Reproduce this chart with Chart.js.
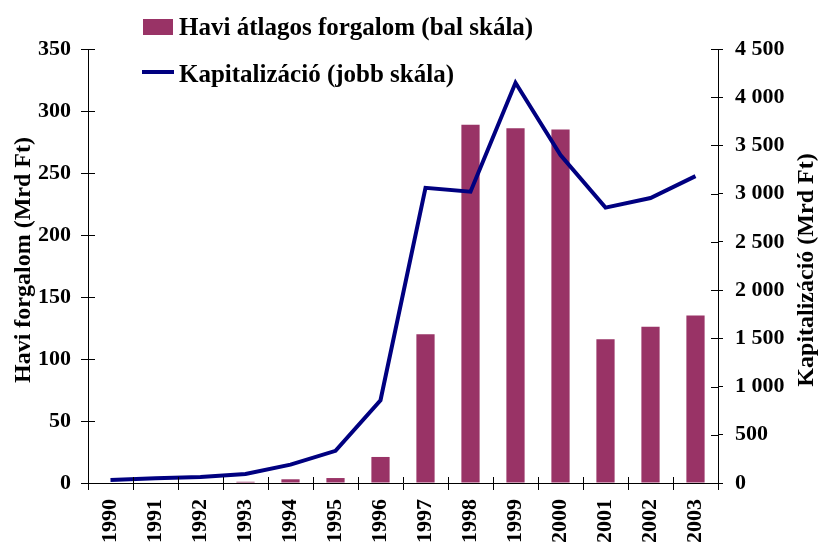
<!DOCTYPE html>
<html>
<head>
<meta charset="utf-8">
<script src="https://cdn.jsdelivr.net/npm/chart.js@4"></script>
<style>
  html, body { margin: 0; padding: 0; background: #fff; }
  #wrap { width: 819px; height: 543px; }
</style>
</head>
<body>
<div id="wrap"><canvas id="chart" width="819" height="543"></canvas></div>
<script>
const years = ['1990', '1991', '1992', '1993', '1994', '1995', '1996', '1997', '1998', '1999', '2000', '2001', '2002', '2003'];
const forgalom = [0, 0, 0, 1, 3, 4, 21, 120, 289, 286, 285, 116, 126, 135];
const kapitalizacio = [30, 48, 62, 93, 190, 334, 858, 3060, 3020, 4150, 3400, 2855, 2955, 3182];
const leftTicks = [0, 50, 100, 150, 200, 250, 300, 350];
const rightTicks = [0, 500, 1000, 1500, 2000, 2500, 3000, 3500, 4000, 4500];

const FONT = '"Liberation Serif", "Times New Roman", serif';
const BAR_COLOR = '#993366';
const LINE_COLOR = '#000080';

// legend inside the plot, axis titles, and the inner half of the tick marks
const extrasPlugin = {
  id: 'extras',
  afterDraw(chart) {
    const ctx = chart.ctx;
    const area = chart.chartArea;
    const { x, y, y1 } = chart.scales;
    ctx.save();

    // inner tick marks (ticks cross the axis lines)
    ctx.strokeStyle = '#000';
    ctx.lineWidth = 1;
    ctx.beginPath();
    y.ticks.forEach(t => {
      const py = Math.round(y.getPixelForValue(t.value)) + 0.5;
      ctx.moveTo(area.left, py);
      ctx.lineTo(area.left + 7, py);
    });
    y1.ticks.forEach(t => {
      const py = Math.round(y1.getPixelForValue(t.value)) + 0.5;
      ctx.moveTo(area.right - 7, py);
      ctx.lineTo(area.right, py);
    });
    for (let i = 0; i <= years.length; i++) {
      const px = Math.round(x.getPixelForValue(i - 0.5)) + 0.5;
      ctx.moveTo(px, area.bottom - 6);
      ctx.lineTo(px, area.bottom);
    }
    ctx.stroke();

    // legend
    ctx.fillStyle = BAR_COLOR;
    ctx.fillRect(143, 19, 30, 16);
    ctx.strokeStyle = LINE_COLOR;
    ctx.lineWidth = 4;
    ctx.beginPath();
    ctx.moveTo(142, 72);
    ctx.lineTo(174, 72);
    ctx.stroke();
    ctx.fillStyle = '#000';
    ctx.font = 'bold 25px ' + FONT;
    ctx.textBaseline = 'alphabetic';
    ctx.textAlign = 'left';
    ctx.fillText('Havi átlagos forgalom (bal skála)', 179, 35);
    ctx.fillText('Kapitalizáció (jobb skála)', 179, 82);

    // axis titles, both reading bottom to top
    ctx.font = 'bold 24px ' + FONT;
    ctx.textAlign = 'center';
    ctx.save();
    ctx.translate(30, 260);
    ctx.rotate(-Math.PI / 2);
    ctx.fillText('Havi forgalom (Mrd Ft)', 0, 0);
    ctx.restore();
    ctx.save();
    ctx.translate(813, 270);
    ctx.rotate(-Math.PI / 2);
    ctx.fillText('Kapitalizáció (Mrd Ft)', 0, 0);
    ctx.restore();

    ctx.restore();
  }
};

new Chart(document.getElementById('chart'), {
  data: {
    labels: years,
    datasets: [
      {
        type: 'line',
        label: 'Kapitalizáció (jobb skála)',
        data: kapitalizacio,
        yAxisID: 'y1',
        borderColor: LINE_COLOR,
        borderWidth: 4,
        pointRadius: 0,
        tension: 0,
        order: 0
      },
      {
        type: 'bar',
        label: 'Havi átlagos forgalom (bal skála)',
        data: forgalom,
        yAxisID: 'y',
        backgroundColor: BAR_COLOR,
        categoryPercentage: 1,
        barPercentage: 0.405,
        order: 1
      }
    ]
  },
  plugins: [extrasPlugin],
  options: {
    responsive: false,
    animation: false,
    layout: { padding: { top: 49, left: 0, right: 0, bottom: 0 } },
    plugins: {
      legend: { display: false },
      tooltip: { enabled: false }
    },
    scales: {
      x: {
        offset: true,
        grid: { display: true, drawOnChartArea: false, tickLength: 7, color: '#000', offset: true },
        border: { color: '#000', width: 1 },
        ticks: {
          color: '#000',
          font: { family: FONT, size: 22, weight: 'bold' },
          maxRotation: 90,
          minRotation: 90,
          padding: 9,
          autoSkip: false
        },
        afterFit: s => { s.height = 60; }
      },
      y: {
        position: 'left',
        min: 0,
        max: 350,
        afterBuildTicks: s => { s.ticks = leftTicks.map(v => ({ value: v })); },
        grid: { drawOnChartArea: false, tickLength: 7, color: '#000' },
        border: { color: '#000', width: 1 },
        ticks: {
          color: '#000',
          font: { family: FONT, size: 22, weight: 'bold' },
          padding: 10
        },
        afterFit: s => { s.width = 88; }
      },
      y1: {
        position: 'right',
        min: 0,
        max: 4500,
        afterBuildTicks: s => { s.ticks = rightTicks.map(v => ({ value: v })); },
        grid: { drawOnChartArea: false, tickLength: 5, color: '#000' },
        border: { color: '#000', width: 1 },
        ticks: {
          color: '#000',
          font: { family: FONT, size: 22, weight: 'bold' },
          padding: 12,
          callback: v => String(v).replace(/\B(?=(\d{3})+(?!\d))/g, ' ')
        },
        afterFit: s => { s.width = 101; }
      }
    }
  }
});
</script>
</body>
</html>
